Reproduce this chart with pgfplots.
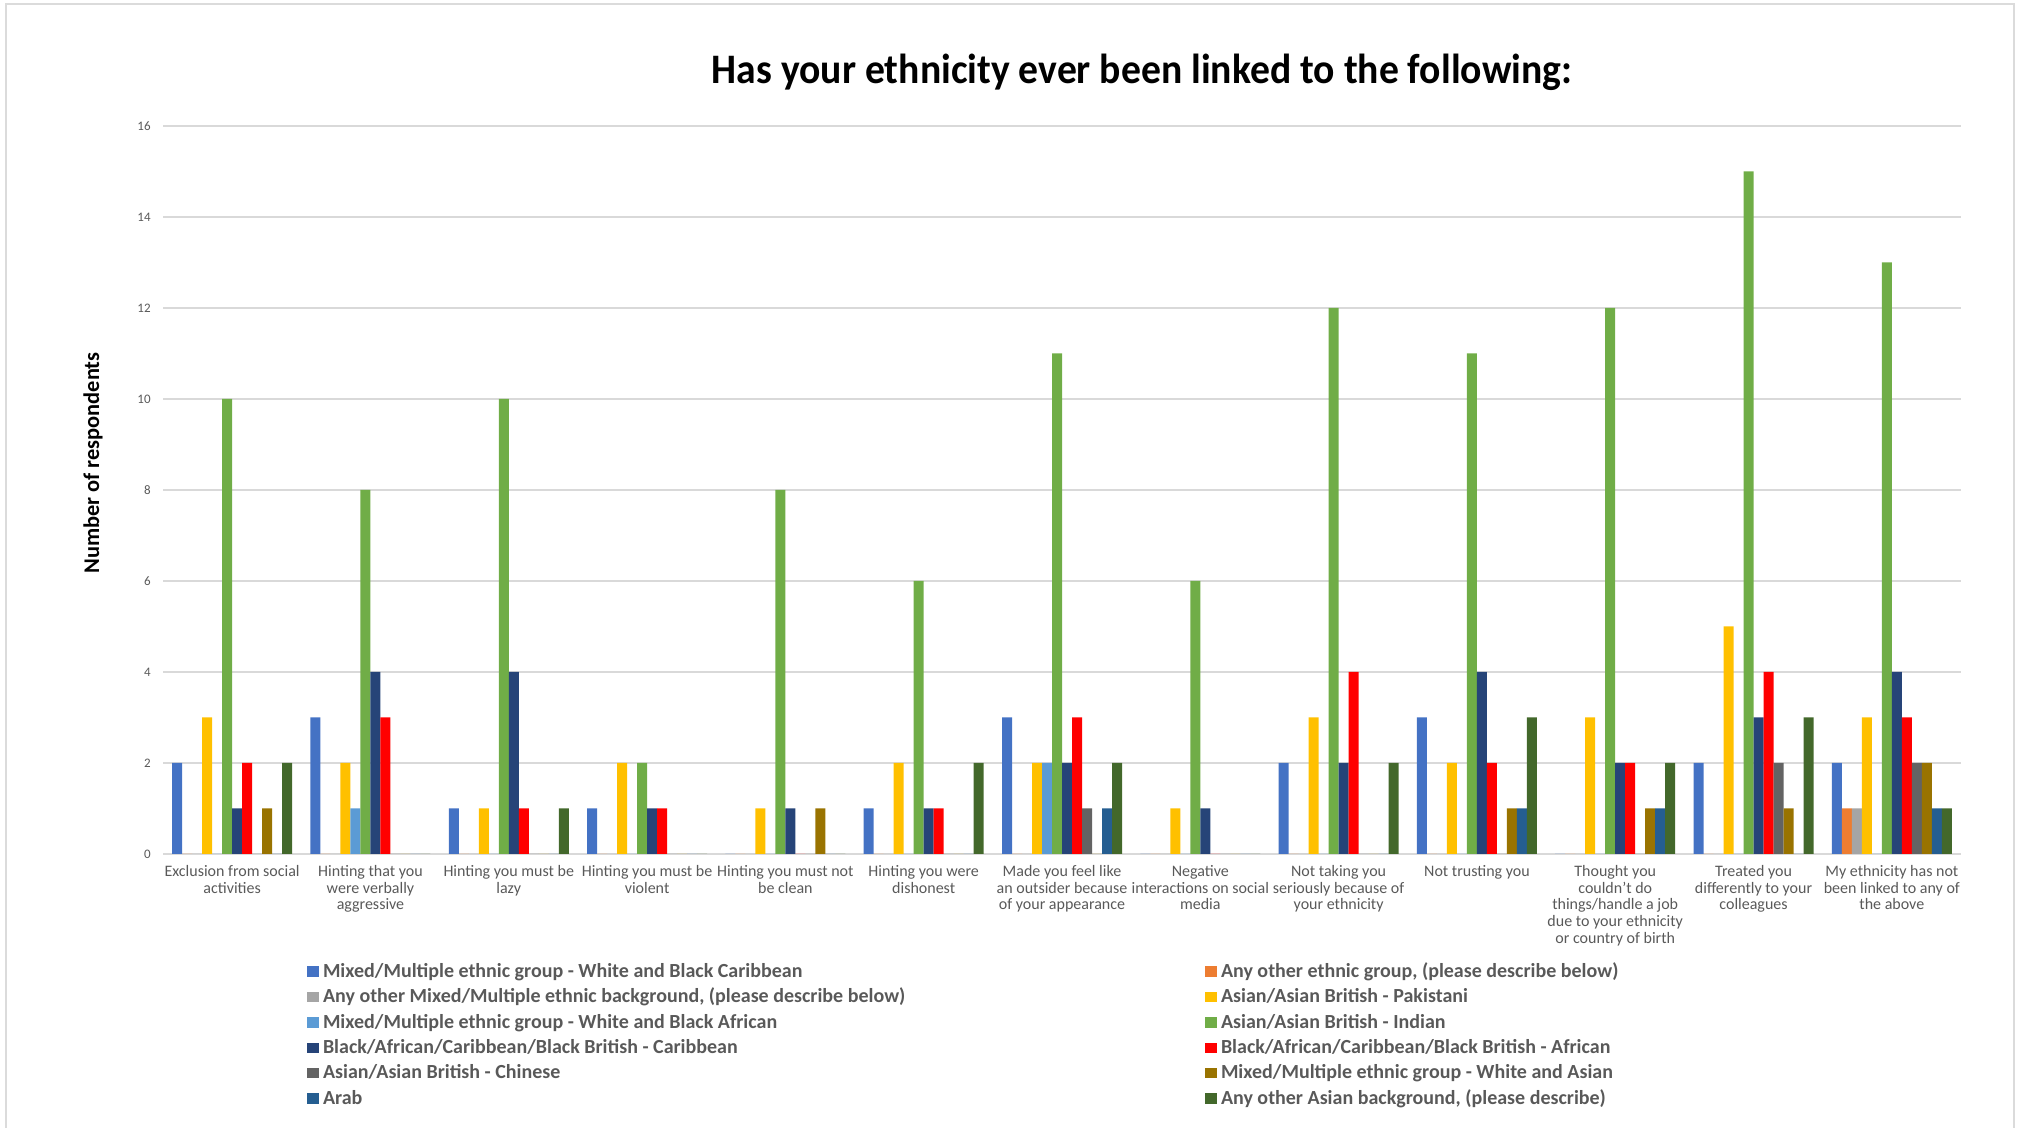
\documentclass[border=0pt]{standalone}
\usepackage{pgfplots}
\pgfplotsset{compat=1.18}
\usepackage{pgfplotstable}
\usepackage{fontspec}
\setmainfont{Carlito}
\newfontfamily\titfont{Carlito}[FakeStretch=0.944]
\definecolor{c1}{HTML}{4472C4}
\definecolor{c2}{HTML}{ED7D31}
\definecolor{c3}{HTML}{A5A5A5}
\definecolor{c4}{HTML}{FFC000}
\definecolor{c5}{HTML}{5B9BD5}
\definecolor{c6}{HTML}{70AD47}
\definecolor{c7}{HTML}{264478}
\definecolor{c8}{HTML}{FF0000}
\definecolor{c9}{HTML}{636363}
\definecolor{c10}{HTML}{997300}
\definecolor{c11}{HTML}{255E91}
\definecolor{c12}{HTML}{43682B}
\definecolor{txtgray}{HTML}{595959}
\definecolor{gridgray}{HTML}{D9D9D9}

\pgfplotstableread{
cat s1 s2 s3 s4 s5 s6 s7 s8 s9 s10 s11 s12
0  2 0 0 3 0 10 1 2 0 1 0 2
1  3 0 0 2 1 8  4 3 0 0 0 0
2  1 0 0 1 0 10 4 1 0 0 0 1
3  1 0 0 2 0 2  1 1 0 0 0 0
4  0 0 0 1 0 8  1 0 0 1 0 0
5  1 0 0 2 0 6  1 1 0 0 0 2
6  3 0 0 2 2 11 2 3 1 0 1 2
7  0 0 0 1 0 6  1 0 0 0 0 0
8  2 0 0 3 0 12 2 4 0 0 0 2
9  3 0 0 2 0 11 4 2 0 1 1 3
10 0 0 0 3 0 12 2 2 0 1 1 2
11 2 0 0 5 0 15 3 4 2 1 0 3
12 2 1 1 3 0 13 4 3 2 2 1 1
}\datatable

\newcommand{\LL}[1]{\makebox[439pt][l]{#1}}
\newcommand{\RR}[1]{#1}

\begin{document}
\begin{tikzpicture}
\useasboundingbox (0pt,0pt) rectangle (1009pt,564pt);
\draw[color=black!14, line width=0.8pt] (3pt,0pt) -- (3pt,562pt) -- (1007pt,562pt) -- (1007pt,0pt);
\node[font=\titfont\bfseries\fontsize{21}{25}\selectfont, text=black] at (571pt,528pt) {Has your ethnicity ever been linked to the following:};
\node[rotate=90, font=\bfseries\fontsize{11.2}{13}\selectfont, text=black] at (46.5pt,332.5pt) {Number of respondents};
\begin{axis}[
  at={(81.5pt,137pt)}, anchor=south west,
  scale only axis, width=899pt, height=364pt,
  ybar=0pt, bar width=5pt,
  xmin=-0.5, xmax=12.5, ymin=0, ymax=16,
  ytick={0,2,...,16},
  xtick={0,...,12},
  xticklabels={
    {Exclusion from social\\activities},
    {Hinting that you\\were verbally\\aggressive},
    {Hinting you must be\\lazy},
    {Hinting you must be\\violent},
    {Hinting you must not\\be clean},
    {Hinting you were\\dishonest},
    {Made you feel like\\an outsider because\\of your appearance},
    {Negative\\interactions on social\\media},
    {Not taking you\\seriously because of\\your ethnicity},
    {Not trusting you},
    {Thought you\\couldn't do\\things/handle a job\\due to your ethnicity\\or country of birth},
    {Treated you\\differently to your\\colleagues},
    {My ethnicity has not\\been linked to any of\\the above}},
  xticklabel style={align=center, font=\fontsize{8}{8.35}\selectfont, text=txtgray, inner sep=0pt, anchor=north, yshift=-5.5pt},
  yticklabel style={font=\fontsize{6.5}{7}\selectfont, text=txtgray, inner sep=0pt, anchor=east, xshift=-6pt},
  /pgf/number format/assume math mode=true,
  major tick length=0pt,
  axis line style={draw=none},
  ymajorgrids, grid style={gridgray, line width=0.8pt},
  legend columns=2,
  legend cell align=left,
  legend style={at={(0.0801,-0.1442)}, anchor=north west, draw=none, fill=none,
    inner sep=0pt, outer sep=0pt, column sep=2pt, row sep=0pt,
    font=\bfseries\fontsize{10}{11}\selectfont, text=txtgray,
    nodes={inner sep=0pt, minimum height=12.7pt}},
  legend image code/.code={\fill[#1] (0pt,-2.6pt) rectangle (6pt,2.6pt);},
]
\addplot[fill=c1, draw=none] table[x=cat, y=s1] {\datatable};
\addlegendentry{\LL{Mixed/Multiple ethnic group - White and Black Caribbean}}
\addplot[fill=c2, draw=none] table[x=cat, y=s2] {\datatable};
\addlegendentry{\RR{Any other ethnic group, (please describe below)}}
\addplot[fill=c3, draw=none] table[x=cat, y=s3] {\datatable};
\addlegendentry{\LL{Any other Mixed/Multiple ethnic background, (please describe below)}}
\addplot[fill=c4, draw=none] table[x=cat, y=s4] {\datatable};
\addlegendentry{\RR{Asian/Asian British - Pakistani}}
\addplot[fill=c5, draw=none] table[x=cat, y=s5] {\datatable};
\addlegendentry{\LL{Mixed/Multiple ethnic group - White and Black African}}
\addplot[fill=c6, draw=none] table[x=cat, y=s6] {\datatable};
\addlegendentry{\RR{Asian/Asian British - Indian}}
\addplot[fill=c7, draw=none] table[x=cat, y=s7] {\datatable};
\addlegendentry{\LL{Black/African/Caribbean/Black British - Caribbean}}
\addplot[fill=c8, draw=none] table[x=cat, y=s8] {\datatable};
\addlegendentry{\RR{Black/African/Caribbean/Black British - African}}
\addplot[fill=c9, draw=none] table[x=cat, y=s9] {\datatable};
\addlegendentry{\LL{Asian/Asian British - Chinese}}
\addplot[fill=c10, draw=none] table[x=cat, y=s10] {\datatable};
\addlegendentry{\RR{Mixed/Multiple ethnic group - White and Asian}}
\addplot[fill=c11, draw=none] table[x=cat, y=s11] {\datatable};
\addlegendentry{\LL{Arab}}
\addplot[fill=c12, draw=none] table[x=cat, y=s12] {\datatable};
\addlegendentry{\RR{Any other Asian background, (please describe)}}
\end{axis}
\end{tikzpicture}
\end{document}
